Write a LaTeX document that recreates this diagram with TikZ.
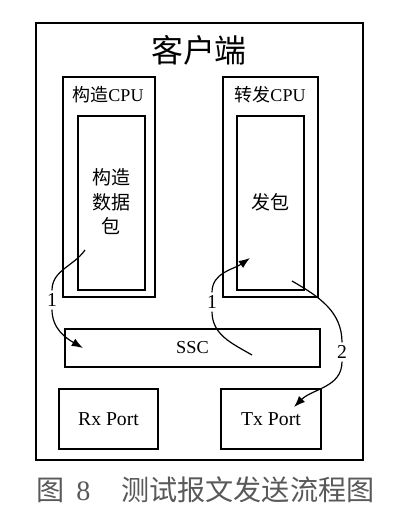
\documentclass[tikz,border=0pt]{standalone}
\usepackage{fontspec}
\setmainfont{Liberation Serif}
\newfontfamily\cjk{Noto Sans CJK SC}
\usetikzlibrary{arrows.meta}

\tikzset{
    box/.style={draw, line width=0.8pt, inner sep=0pt, outer sep=0pt},
    flow/.style={line width=0.85pt},
    num/.style={font=\fontsize{14}{15}\selectfont, inner sep=2pt},
}

\begin{document}
\begin{tikzpicture}[x=0.025cm, y=-0.025cm, >={Latex[length=8pt, width=6pt]}]
    \useasboundingbox (0, 0) rectangle (400, 513);

    % boxes
    \node[box, minimum width=8.175cm, minimum height=10.925cm] (client) at (199.5, 241.5) {};
    \node[font=\fontsize{22.7}{24}\selectfont\cjk] (title) at (199, 50) {客户端};

    \node[box, minimum width=2.3cm, minimum height=5.5cm] (cpuA) at (109, 187) {};
    \node[font=\fontsize{12.8}{14}\selectfont] (cpuAname) at (108, 95) {{\cjk 构造}CPU};
    \node[box, minimum width=1.675cm, minimum height=4.35cm] (build) at (111.5, 203) {};
    \node[font=\fontsize{13.5}{17.4}\selectfont\cjk, align=center] (buildtext) at (111, 202) {构造\\数据\\包};

    \node[box, minimum width=2.375cm, minimum height=5.5cm] (cpuB) at (270.5, 187) {};
    \node[font=\fontsize{12.8}{14}\selectfont] (cpuBname) at (270, 95) {{\cjk 转发}CPU};
    \node[box, minimum width=1.675cm, minimum height=4.35cm] (send) at (270.5, 203) {};
    \node[font=\fontsize{13.5}{15}\selectfont\cjk] (sendtext) at (270, 202) {发包};

    \node[box, minimum width=6.375cm, minimum height=0.95cm, font=\fontsize{13}{14}\selectfont] (ssc) at (192.5, 348) {SSC};
    \node[box, minimum width=2.475cm, minimum height=1.5cm, font=\fontsize{14}{15}\selectfont] (rx) at (108.5, 419) {Rx Port};
    \node[box, minimum width=2.5cm, minimum height=1.5cm, font=\fontsize{14}{15}\selectfont] (tx) at (271, 419) {Tx Port};

    % caption
    \node[anchor=west, text=black!65, font=\fontsize{20}{22}\selectfont] (caption) at (32, 490)
        {{\cjk 图}\hspace{0.4em}8\hspace{1.1em}{\cjk 测试报文发送流程图}};

    % flows
    \coordinate (a1) at (85, 250);
    \coordinate (b1) at (83, 348);
    \node[num] (n1) at (52, 300) {1};
    \draw[flow] (a1) to[out=-125, in=90] (n1);
    \draw[flow, ->] (n1) to[out=-90, in=150] (b1);

    \coordinate (a2) at (252, 355);
    \coordinate (b2) at (250, 258);
    \node[num] (n2) at (212, 302) {1};
    \draw[flow] (a2) to[out=150, in=-90] (n2);
    \draw[flow, ->] (n2) to[out=90, in=215] (b2);

    \coordinate (a3) at (292, 281);
    \coordinate (b3) at (294, 407);
    \node[num] (n3) at (342, 352) {2};
    \draw[flow] (a3) to[out=-30, in=90] (n3);
    \draw[flow, ->] (n3) to[out=-90, in=45] (b3);
\end{tikzpicture}
\end{document}
